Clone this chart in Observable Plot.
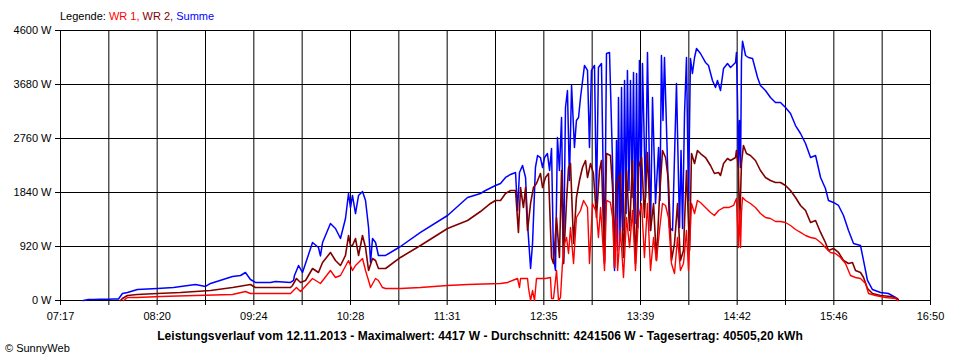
<!DOCTYPE html>
<html>
<head>
<meta charset="utf-8">
<script src="https://cdn.jsdelivr.net/npm/d3@7"></script>
<script src="https://cdn.jsdelivr.net/npm/@observablehq/plot@0.6"></script>
<style>
  body { margin: 0; background: #fff; }
  #wrap { position: relative; width: 960px; height: 360px; overflow: hidden; font-family: "Liberation Sans", Arial, sans-serif; color: #000; }
  #chart { position: absolute; left: 0; top: 0; }
  #legend { position: absolute; left: 60px; top: 10px; font-size: 11px; white-space: nowrap; }
  #footer { position: absolute; left: 0; width: 960px; top: 329px; text-align: center; font-size: 12px; font-weight: bold; white-space: nowrap; letter-spacing: 0.09px; }
  #copy { position: absolute; left: 5px; top: 342px; font-size: 11px; white-space: nowrap; }
</style>
</head>
<body>
<div id="wrap">
  <div id="chart"></div>
  <div id="legend"></div>
  <div id="footer"></div>
  <div id="copy"></div>
</div>
<script>
// ---- Texts ----
const legendLabel = "Legende: ";
const seriesNames = ["WR 1", "WR 2", "Summe"];
const seriesColors = ["#ff0000", "#800000", "#0000ff"];
const footerText = "Leistungsverlauf vom 12.11.2013 - Maximalwert: 4417 W - Durchschnitt: 4241506 W - Tagesertrag: 40505,20 kWh";
const copyText = "© SunnyWeb";

// ---- Axes ----
const timeStart = 437;   // 07:17 in minutes since midnight
const timeEnd = 1010;    // 16:50
const xGridCount = 18;
const xTickLabels = ["07:17", "08:20", "09:24", "10:28", "11:31", "12:35", "13:39", "14:42", "15:46", "16:50"];
const yTicks = [0, 920, 1840, 2760, 3680, 4600];

// ---- Data (time in minutes since midnight, power in W) ----
const wr1Min = [478.5,481.1,487.7,502.9,525.9,550.3,558.8,562.1,588.5,592.4,
595.1,603.0,608.2,614.8,618.1,621.4,626.7,629.3,631.3,633.3,
635.9,637.9,639.9,641.2,644.5,646.4,649.1,651.1,660.9,674.1,
691.9,705.1,726.8,731.4,738.0,739.3,740.0,744.6,745.2,746.6,
747.9,749.2,750.5,756.4,759.7,760.4,761.7,763.7,765.0,766.3,
767.6,768.9,770.3,771.6,772.9,774.9,776.8,779.5,781.5,784.1,
785.4,787.4,790.0,791.3,792.7,795.3,796.6,799.2,800.6,801.9,
803.2,803.9,805.8,807.8,809.8,811.8,813.7,815.7,817.7,819.7,
821.6,823.6,825.6,827.6,829.5,831.5,833.5,835.5,837.4,839.4,
841.4,843.4,845.3,847.3,849.3,850.6,852.6,854.6,856.5,858.5,
861.8,865.1,867.7,870.4,873.7,877.0,880.3,882.2,883.5,884.2,
884.9,885.5,886.2,888.2,891.4,894.7,898.0,901.3,904.6,907.9,
911.2,914.5,917.8,921.1,924.4,927.7,931.0,934.3,937.6,940.8,
944.1,947.4,950.7,954.0,957.3,960.6,963.9,967.2,969.2,973.8,
980.4,987.0,988.3];
const wr1W = [0,51,51,68,85,102,153,119,119,221,
153,375,290,511,392,426,681,511,596,647,
716,511,341,221,375,341,221,204,204,221,
256,273,290,307,375,221,375,375,221,0,
170,0,375,375,392,34,34,511,0,51,
630,971,1073,801,1244,630,1414,1533,1704,1584,
630,1653,1499,1073,1584,511,1704,1670,1414,562,
1414,511,1193,392,1414,903,1533,511,1414,1653,
733,1653,511,1073,681,1193,1653,1619,1414,630,
460,1073,511,630,1193,511,1653,1482,1704,1670,
1584,1499,1448,1533,1584,1584,1619,1738,903,1550,
903,1500,1755,1704,1653,1584,1482,1414,1397,1346,
1346,1329,1278,1210,1159,1107,1073,1056,988,903,
818,801,733,630,426,392,375,290,119,85,
51,34,0];

const wr2Min = [476.5,477.8,481.1,487.7,500.9,516.0,525.9,535.8,550.3,562.1,
565.4,588.5,589.8,592.4,595.1,598.4,603.0,606.9,609.6,614.8,
618.1,621.4,624.7,626.7,628.0,629.3,631.3,633.3,635.9,637.9,
639.9,642.5,644.5,646.4,651.1,660.9,674.1,691.9,705.1,713.6,
720.2,723.5,726.8,730.1,733.4,736.7,738.6,740.0,741.9,743.3,
744.6,746.6,748.5,750.5,753.1,754.5,756.4,758.4,760.4,761.7,
763.7,765.6,767.0,768.3,770.3,771.6,772.9,774.9,776.8,778.8,
780.8,782.8,784.1,786.1,788.0,790.0,792.0,793.3,795.3,796.6,
799.2,800.6,801.9,803.2,805.8,807.8,809.8,811.8,813.7,815.7,
817.7,819.7,821.6,823.6,825.6,827.6,829.5,831.5,833.5,835.5,
837.4,839.4,841.4,843.4,845.3,847.3,849.3,851.3,852.6,854.6,
856.5,858.5,861.8,865.1,867.7,870.4,871.7,873.7,876.3,878.3,
881.6,882.2,883.5,884.2,885.5,886.8,888.8,891.4,894.7,898.0,
901.3,904.6,907.9,911.2,914.5,917.8,921.1,924.4,927.7,931.0,
934.3,937.6,940.8,942.8,946.1,949.4,952.7,956.0,958.6,960.6,
963.9,965.9,968.5,971.8,977.1,983.7,988.3,988.9];
const wr2W = [0,34,85,102,119,136,153,170,221,273,
221,221,256,375,307,341,545,477,647,818,
681,596,767,1107,937,937,1056,767,1107,903,
511,716,681,545,545,733,937,1227,1363,1516,
1653,1704,1704,1823,1874,1874,1159,1925,1584,1925,
1193,1653,1925,1993,2164,1925,2096,2164,733,630,
1414,733,2215,630,1704,2266,2334,971,1755,2044,
2266,2385,2096,2334,2164,1414,2215,2385,630,2504,
2470,1925,562,1976,2164,733,2215,1193,2385,630,
2266,2436,1414,2521,1193,1653,681,1755,2556,2436,
2044,681,971,1653,681,852,2215,852,2504,2334,
2556,2504,2436,2300,2164,2181,2130,2334,2419,2385,
2436,2556,2266,1193,2334,2641,2504,2470,2385,2215,
2096,2044,2010,2010,1959,1874,1755,1619,1533,1329,
1363,1159,988,852,886,818,681,630,647,511,
477,392,204,119,85,68,34,0];

const sumMin = [452.0,455.4,458.7,463.3,468.6,471.9,475.2,477.8,481.1,487.7,
500.9,511.4,525.9,532.5,535.8,550.3,555.6,558.8,562.1,565.4,
575.3,578.6,588.5,590.5,591.1,593.8,596.4,603.0,606.9,608.2,
609.6,614.8,618.1,621.4,624.7,626.7,628.0,629.3,631.3,633.3,
635.9,637.9,639.9,641.2,642.5,644.5,646.4,651.1,660.9,674.1,
691.9,705.1,713.6,716.9,723.5,726.8,730.1,733.4,736.7,738.0,
739.3,741.3,743.3,744.6,746.6,747.9,749.8,751.2,753.1,754.5,
755.8,757.7,759.1,760.4,761.7,763.0,764.3,765.6,767.0,768.3,
769.6,770.9,772.2,773.6,775.5,776.8,778.2,779.5,782.1,784.1,
785.4,786.7,788.7,790.0,791.3,793.3,795.3,796.6,798.6,800.6,
801.9,803.2,803.9,804.5,805.5,806.5,807.5,808.5,809.5,810.4,
811.4,812.4,813.4,814.4,815.4,816.4,817.3,818.3,819.3,820.3,
822.3,823.6,825.6,826.9,828.9,830.9,831.8,832.8,833.8,834.8,
836.8,838.1,840.1,842.7,844.7,845.7,846.7,848.0,849.3,850.6,
851.9,853.2,854.6,855.9,858.5,861.8,863.8,866.4,868.4,869.7,
871.7,873.7,876.3,878.3,881.6,882.2,882.9,883.5,884.2,884.9,
885.5,886.2,886.8,888.2,890.1,892.8,896.1,898.0,901.3,904.6,
907.9,911.2,914.5,917.8,921.1,924.4,927.7,931.0,934.3,937.6,
940.8,942.8,946.1,949.4,952.7,956.0,959.3,963.9,965.9,968.5,
971.8,977.1,982.3,987.0,988.9];
const sumW = [0,17,17,20,20,25,25,120,136,187,
204,221,273,239,290,409,426,477,358,307,
307,324,307,341,426,596,477,988,903,760,
988,1312,1227,1056,1397,1823,1584,1789,1482,1789,
1857,1704,1244,647,1056,988,767,767,920,1159,
1448,1755,1823,1874,1959,1993,2096,2147,2181,1533,
2181,2300,2096,1312,545,971,2266,2470,2436,2266,
2436,2504,2215,2590,733,511,2777,2215,3118,630,
3288,3578,2044,3663,2607,3067,3118,3459,4004,3919,
2607,3919,4004,1653,3970,4038,681,4208,4225,2334,
511,2726,852,3459,1022,3629,1193,3748,1482,3919,
1874,3748,1755,3884,1312,3867,1244,4089,1704,4038,
1755,4225,1193,3459,1653,2607,1704,4174,3067,4140,
2334,1244,1193,3697,1244,2556,1227,3186,4140,1704,
4123,3867,4140,4293,4208,4055,4004,3748,3629,3748,
3578,3953,4038,3970,4055,4225,3407,2266,3067,2266,
4089,4417,4344,4174,4140,4123,3799,3663,3578,3459,
3373,3373,3288,3186,2981,2845,2675,2436,2470,2096,
1908,1704,1670,1619,1448,1193,971,937,681,341,
187,136,119,51,8];

// ---- Build tables ----
const zip = (ts, ws) => ts.map((t, i) => ({t, w: ws[i]}));
const wr1Data = zip(wr1Min, wr1W);
const wr2Data = zip(wr2Min, wr2W);
const sumData = zip(sumMin, sumW);

const xTicks = d3.range(xGridCount + 1).map(i => timeStart + i * (timeEnd - timeStart) / xGridCount);
const xFmt = d => {
  const i = xTicks.indexOf(d);
  return i % 2 === 0 ? xTickLabels[i / 2] : "";
};

const chart = Plot.plot({
  width: 960,
  height: 360,
  marginTop: 30,
  marginBottom: 60,
  marginLeft: 60,
  marginRight: 30,
  style: { fontFamily: "'Liberation Sans', Arial, sans-serif", fontSize: "11px", background: "white", color: "black" },
  x: { type: "linear", domain: [timeStart, timeEnd], label: null },
  y: { domain: [0, 4600], label: null },
  marks: [
    Plot.gridX(xTicks, { stroke: "black", strokeOpacity: 1, strokeWidth: 1 }),
    Plot.gridY(yTicks, { stroke: "black", strokeOpacity: 1, strokeWidth: 1 }),
    Plot.line(sumData, { x: "t", y: "w", stroke: seriesColors[2], strokeWidth: 1.5 }),
    Plot.line(wr2Data, { x: "t", y: "w", stroke: seriesColors[1], strokeWidth: 1.6 }),
    Plot.line(wr1Data, { x: "t", y: "w", stroke: seriesColors[0], strokeWidth: 1.4 }),
    Plot.axisX(xTicks, { tickSize: 5, tickPadding: 7, tickFormat: xFmt, stroke: "black", fill: "black", label: null }),
    Plot.axisY(yTicks, { tickSize: 5, tickPadding: 4, tickFormat: d => d + " W", stroke: "black", fill: "black", label: null })
  ]
});
document.getElementById("chart").appendChild(chart);

// ---- Legend & footer ----
const legend = document.getElementById("legend");
legend.appendChild(document.createTextNode(legendLabel));
seriesNames.forEach((name, i) => {
  const s = document.createElement("span");
  s.style.color = seriesColors[i];
  s.textContent = name + (i < seriesNames.length - 1 ? ", " : "");
  legend.appendChild(s);
});
document.getElementById("footer").textContent = footerText;
document.getElementById("copy").textContent = copyText;
</script>
</body>
</html>
